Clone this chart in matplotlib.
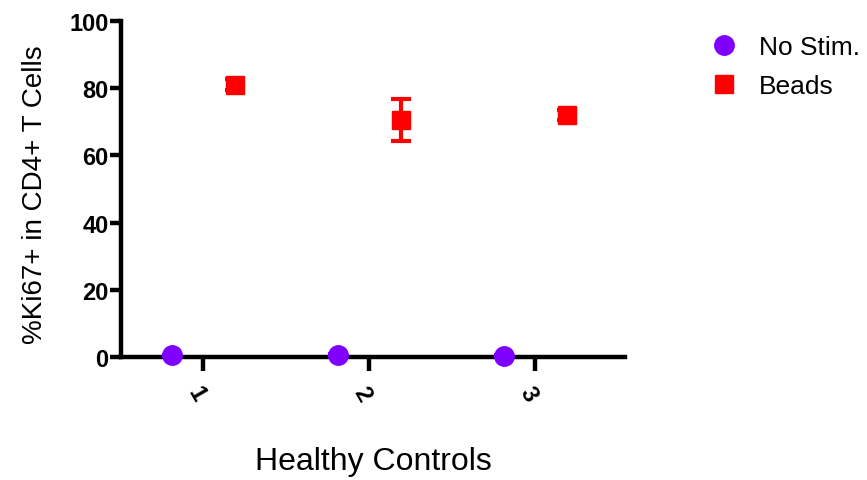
import numpy as np
import matplotlib.pyplot as plt

plt.rcParams['font.family'] = ['Liberation Sans', 'DejaVu Sans']

donors = [1, 2, 3]
no_stim = [0.5, 0.6, 0.4]
no_stim_err = [0.2, 0.2, 0.2]
beads = [81.0, 70.5, 72.0]
beads_err = [1.6, 6.2, 1.6]

x = np.array(donors, dtype=float)
offset = 0.19

fig = plt.figure(figsize=(8.67, 4.81), dpi=100)
ax = fig.add_axes([0.1396, 0.2557, 0.5813, 0.6985])

ax.errorbar(x - offset, no_stim, yerr=no_stim_err, fmt='o', color='#7F00FF',
            markersize=14, elinewidth=3, capsize=7, capthick=3, label='No Stim.',
            clip_on=False, zorder=3)
ax.errorbar(x + offset, beads, yerr=beads_err, fmt='s', color='#FF0000',
            markersize=13, elinewidth=3, capsize=7, capthick=3, label='Beads',
            clip_on=False, zorder=3)

ax.set_xlim(0.506, 3.54)
ax.set_ylim(0, 100)
ax.set_yticks([0, 20, 40, 60, 80, 100])
ax.set_xticks(donors)
ax.set_xticklabels([str(d) for d in donors], rotation=-60, ha='left',
                   rotation_mode='anchor')

for side in ['top', 'right']:
    ax.spines[side].set_visible(False)
for side in ['left', 'bottom']:
    ax.spines[side].set_linewidth(3.2)
    ax.spines[side].set_color('black')

ax.tick_params(axis='y', width=3.2, length=8, labelsize=17, pad=1)
ax.tick_params(axis='x', width=3.2, length=10, labelsize=17, pad=8)
for lbl in ax.get_xticklabels() + ax.get_yticklabels():
    lbl.set_fontweight('bold')

ax.set_ylabel('%Ki67+ in CD4+ T Cells', fontsize=20)
ax.yaxis.set_label_coords(-0.145, 0.485)
ax.set_xlabel('Healthy Controls', fontsize=23)
ax.xaxis.set_label_coords(0.5, -0.265)

handles, labels = ax.get_legend_handles_labels()
handles = [h[0] for h in handles]
fig.legend(handles, labels, loc='upper left', bbox_to_anchor=(0.7935, 0.974),
           frameon=False, fontsize=19, handletextpad=0.9, labelspacing=0.55,
           handlelength=0.9)

fig.savefig('out.png', dpi=100)
